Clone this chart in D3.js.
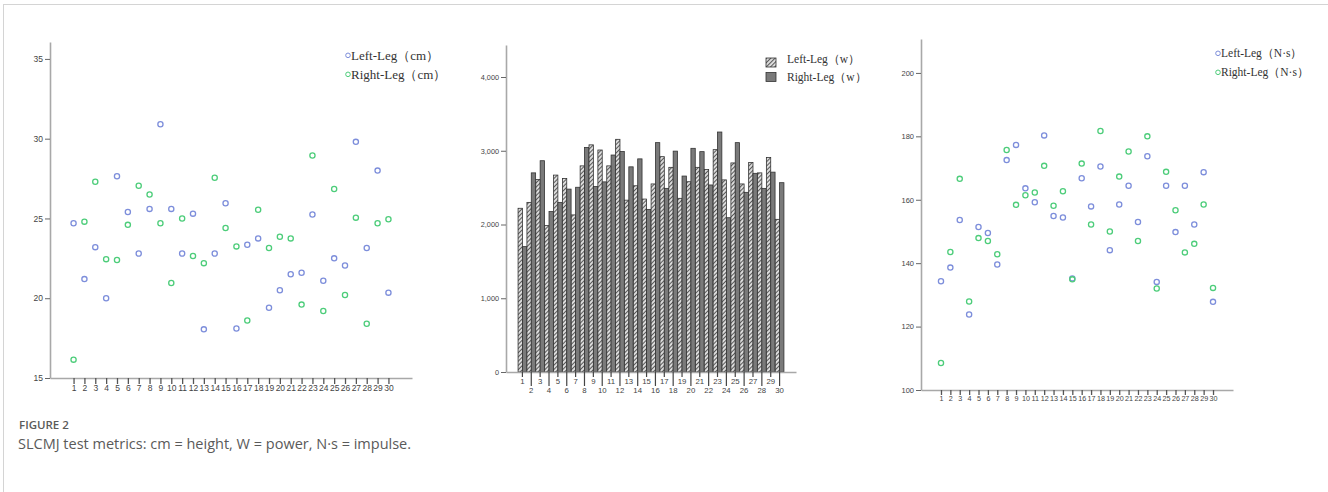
<!DOCTYPE html>
<html>
<head>
<meta charset="utf-8">
<script src="https://cdn.jsdelivr.net/npm/d3@7"></script>
<style>
  body { margin: 0; background: #fff; }
  svg { display: block; }
  .tick text { font-family: "Liberation Sans", Arial, sans-serif; fill: #444; }
</style>
</head>
<body>
<svg id="chart"></svg>
<script>
// Subjects (x categories shared by the three panels)
const subjects = [1,2,3,4,5,6,7,8,9,10,11,12,13,14,15,16,17,18,19,20,21,22,23,24,25,26,27,28,29,30];

// Panel 1: jump height (cm)
const heightLeft = [24.7, 21.2, 23.2, 20.0, 27.65, 25.4, 22.8, 25.6, 30.9, 25.6, 22.8, 25.3, 18.05, 22.8, 25.95,
                    18.1, 23.35, 23.75, 19.4, 20.5, 21.5, 21.6, 25.25, 21.1, 22.5, 22.05, 29.8, 23.15, 28.0, 20.35];
const heightRight = [16.15, 24.8, 27.3, 22.45, 22.4, 24.6, 27.05, 26.5, 24.7, 20.95, 25.0, 22.65, 22.2, 27.55, 24.4,
                     23.25, 18.6, 25.55, 23.15, 23.85, 23.75, 19.6, 28.95, 19.2, 26.85, 20.2, 25.05, 18.4, 24.7, 24.95];
const heightTicks = [15, 20, 25, 30, 35];

// Panel 2: power (w)
const powerLeft = [2220, 2300, 2610, 1985, 2670, 2625, 2130, 2795, 3080, 3010, 2795, 3155, 2330, 2525, 2345,
                   2550, 2920, 2775, 2355, 2580, 2775, 2745, 3015, 2605, 2835, 2550, 2840, 2700, 2910, 2070];
const powerRight = [1700, 2700, 2865, 2175, 2300, 2480, 2505, 3045, 2515, 2578, 2942, 2990, 2782, 2890, 2205,
                    3110, 2490, 2995, 2657, 3033, 2988, 2536, 3254, 2092, 3110, 2436, 2694, 2490, 2710, 2567];
const powerTicks = [0, 1000, 2000, 3000, 4000];

// Panel 3: impulse (N·s)
const impulseLeft = [134.3, 138.6, 153.6, 123.8, 151.4, 149.5, 139.6, 172.5, 177.3, 163.6, 159.2, 180.3, 154.9, 154.4, 135.2,
                     166.8, 157.9, 170.5, 144.1, 158.5, 164.4, 153.0, 173.7, 134.1, 164.4, 149.8, 164.4, 152.2, 168.7, 127.8];
const impulseRight = [108.5, 143.5, 166.6, 127.9, 147.9, 147.0, 142.8, 175.7, 158.4, 161.4, 162.3, 170.7, 158.1, 162.7, 134.9,
                      171.4, 152.2, 181.7, 150.0, 167.3, 175.2, 147.0, 180.0, 132.0, 168.8, 156.7, 143.4, 146.1, 158.5, 132.2];
const impulseTicks = [100, 120, 140, 160, 180, 200];

const blue = "#7d8edb", green = "#4dcd7a";
const axisColor = "#a8a8a8";
const barGray = "#7a7a7a";

const svg = d3.select("#chart")
    .attr("width", 1328)
    .attr("height", 492)
    .style("background", "#fff");

// light frame around the figure
svg.append("line").attr("x1", 3).attr("x2", 1328).attr("y1", 4.5).attr("y2", 4.5)
    .attr("stroke", "#d4d4d4").attr("stroke-width", 1);
svg.append("line").attr("x1", 3.5).attr("x2", 3.5).attr("y1", 4).attr("y2", 492)
    .attr("stroke", "#d4d4d4").attr("stroke-width", 1);

// hatch pattern for the left-leg bars
const defs = svg.append("defs");
const pat = defs.append("pattern")
    .attr("id", "hatch")
    .attr("patternUnits", "userSpaceOnUse")
    .attr("width", 3).attr("height", 3)
    .attr("patternTransform", "rotate(45)");
pat.append("rect").attr("width", 3).attr("height", 3).attr("fill", "#dcdcdc");
pat.append("line").attr("x1", 0).attr("y1", 0).attr("x2", 0).attr("y2", 3)
    .attr("stroke", "#4a4a4a").attr("stroke-width", 1.8);

function styleAxis(g, fontSize) {
    g.select(".domain").attr("stroke", axisColor).attr("stroke-width", 1.6);
    g.selectAll(".tick line").attr("stroke", "#666").attr("stroke-width", 1);
    g.selectAll(".tick text").style("font-size", fontSize + "px");
}

// ---------- scatter panels ----------
function scatterPanel(opt) {
    const x = d3.scalePoint().domain(subjects).range([opt.x0, opt.x1]).padding(opt.pad);
    const y = d3.scaleLinear().domain([opt.yMin, opt.yMax]).range([opt.yBottom, opt.yTop]);

    const yAxis = svg.append("g")
        .attr("transform", `translate(${opt.x0},0)`)
        .call(d3.axisLeft(y).tickValues(opt.ticks).tickSize(5).tickSizeOuter(0).tickPadding(2));
    styleAxis(yAxis, opt.yFont);

    const xAxis = svg.append("g")
        .attr("transform", `translate(0,${opt.yBottom})`)
        .call(d3.axisBottom(x).tickSize(opt.xTick).tickSizeOuter(0).tickPadding(1));
    styleAxis(xAxis, opt.xFont);
    xAxis.selectAll(".tick line").attr("stroke-width", 1.3).attr("stroke", "#555");

    const series = [
        { values: opt.left, color: blue },
        { values: opt.right, color: green }
    ];
    series.forEach(s => {
        svg.append("g").selectAll("circle")
            .data(s.values)
            .join("circle")
            .attr("cx", (d, i) => x(subjects[i]))
            .attr("cy", d => y(d))
            .attr("r", 2.6)
            .attr("fill", "none")
            .attr("stroke", s.color)
            .attr("stroke-width", 1.3);
    });

    const lg = svg.append("g").attr("transform", `translate(${opt.legX},${opt.legY})`);
    opt.labels.forEach((lab, i) => {
        lg.append("circle")
            .attr("cx", 0).attr("cy", i * opt.legStep - opt.legSize * 0.32)
            .attr("r", 2.3)
            .attr("fill", "none")
            .attr("stroke", i === 0 ? blue : green)
            .attr("stroke-width", 1);
        lg.append("text")
            .attr("x", 3).attr("y", i * opt.legStep)
            .style("font-family", "'Liberation Serif', 'Times New Roman', serif")
            .style("font-size", opt.legSize + "px")
            .style("fill", "#333")
            .text(lab);
    });
}

scatterPanel({
    x0: 50, x1: 412, pad: 2.17,
    yMin: 15, yMax: 36.06, yBottom: 378, yTop: 42,
    ticks: heightTicks, yFont: 8.5, xFont: 8.5, xTick: 6,
    left: heightLeft, right: heightRight,
    labels: ["Left-Leg（cm）", "Right-Leg（cm）"],
    legX: 348, legY: 59.5, legStep: 19, legSize: 13
});

scatterPanel({
    x0: 921, x1: 1233, pad: 2.13,
    yMin: 100, yMax: 210.7, yBottom: 390, yTop: 39,
    ticks: impulseTicks, yFont: 7.5, xFont: 7.2, xTick: 5,
    left: impulseLeft, right: impulseRight,
    labels: ["Left-Leg（N·s）", "Right-Leg（N·s）"],
    legX: 1218, legY: 57, legStep: 19, legSize: 11.5
});

// ---------- bar panel ----------
{
    const x0 = 506, x1 = 796, yBottom = 372, yTop = 45;
    const x = d3.scaleBand().domain(subjects).range([x0, x1]).paddingInner(0.02).paddingOuter(1.36);
    const sub = d3.scaleBand().domain(["left", "right"]).range([0, x.bandwidth()]);
    const y = d3.scaleLinear().domain([0, 4434]).range([yBottom, yTop]);

    const rows = subjects.map((s, i) => ({ s, left: powerLeft[i], right: powerRight[i] }));

    const groups = svg.append("g").selectAll("g")
        .data(rows)
        .join("g")
        .attr("transform", d => `translate(${x(d.s)},0)`);

    groups.selectAll("rect")
        .data(d => [{ key: "left", v: d.left }, { key: "right", v: d.right }])
        .join("rect")
        .attr("x", d => sub(d.key))
        .attr("width", sub.bandwidth())
        .attr("y", d => y(d.v))
        .attr("height", d => yBottom - y(d.v))
        .attr("fill", d => d.key === "left" ? "url(#hatch)" : barGray)
        .attr("stroke", "#333")
        .attr("stroke-width", 0.8);

    const yAxis = svg.append("g")
        .attr("transform", `translate(${x0},0)`)
        .call(d3.axisLeft(y).tickValues(powerTicks).tickSize(5).tickSizeOuter(0).tickPadding(2)
            .tickFormat(d3.format(",")));
    styleAxis(yAxis, 7.3);

    const xAxis = svg.append("g")
        .attr("transform", `translate(0,${yBottom})`)
        .call(d3.axisBottom(x).tickSizeOuter(0).tickPadding(1));
    styleAxis(xAxis, 7.8);
    xAxis.selectAll(".tick line")
        .attr("stroke", "#444").attr("stroke-width", 1.2)
        .attr("y2", d => d % 2 === 1 ? 5 : 14);
    xAxis.selectAll(".tick text")
        .attr("y", d => d % 2 === 1 ? 6 : 15);

    const labels = ["Left-Leg（w）", "Right-Leg（w）"];
    const lg = svg.append("g").attr("transform", "translate(766,58)");
    labels.forEach((lab, i) => {
        lg.append("rect")
            .attr("x", 0).attr("y", i * 14.5)
            .attr("width", 10).attr("height", 9)
            .attr("fill", i === 0 ? "url(#hatch)" : barGray)
            .attr("stroke", "#333").attr("stroke-width", 0.8);
        lg.append("text")
            .attr("x", 21).attr("y", i * 17.5 + 5)
            .style("font-family", "'Liberation Serif', 'Times New Roman', serif")
            .style("font-size", "11.5px")
            .style("fill", "#333")
            .text(lab);
    });
}

// ---------- caption ----------
svg.append("text")
    .attr("x", 19).attr("y", 429)
    .style("font-family", "'Open Sans', sans-serif")
    .style("font-size", "11.5px")
    .style("font-weight", 600)
    .style("fill", "#5a5a5a")
    .text("FIGURE 2");
svg.append("text")
    .attr("x", 18).attr("y", 449)
    .style("font-family", "'Open Sans', sans-serif")
    .style("font-size", "14.5px")
    .style("fill", "#5a5a5a")
    .text("SLCMJ test metrics: cm = height, W = power, N·s = impulse.");
</script>
</body>
</html>
